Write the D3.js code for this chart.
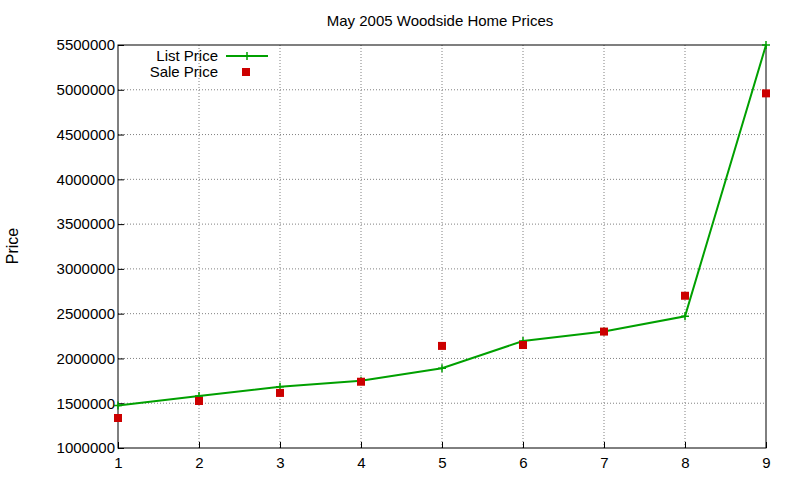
<!DOCTYPE html>
<html><head><meta charset="utf-8">
<script src="https://cdn.jsdelivr.net/npm/d3@7"></script>
<style>body{margin:0;background:#fff}svg{font-family:"Liberation Sans",Arial,sans-serif}.tick text{font-size:15px}</style>
</head><body><svg id="c" width="800" height="480"></svg>
<script>
const homes = [1, 2, 3, 4, 5, 6, 7, 8, 9];
const listPrice = [1475000, 1580000, 1685000, 1750000, 1890000, 2195000, 2300000, 2470000, 5500000];
const salePrice = [1335000, 1525000, 1615000, 1740000, 2140000, 2150000, 2300000, 2700000, 4960000];
const yTicks = [1000000, 1500000, 2000000, 2500000, 3000000, 3500000, 4000000, 4500000, 5000000, 5500000];

const svg = d3.select('#c');
const m = {l: 118, r: 766, t: 45, b: 448};
const x = d3.scaleLinear().domain([1, 9]).range([m.l, m.r]);
const y = d3.scaleLinear().domain([1000000, 5500000]).range([m.b, m.t]);

// Grid
const grid = svg.append('g').attr('stroke', '#808080').attr('stroke-dasharray', '1,2').attr('stroke-width', 1);
homes.slice(1, -1).forEach(d => grid.append('line').attr('x1', x(d)).attr('x2', x(d)).attr('y1', m.t).attr('y2', m.b));
yTicks.slice(1, -1).forEach(d => grid.append('line').attr('x1', m.l).attr('x2', m.r).attr('y1', y(d)).attr('y2', y(d)));

// Frame and axes
svg.append('rect').attr('x', m.l).attr('y', m.t).attr('width', m.r - m.l).attr('height', m.b - m.t)
    .attr('fill', 'none').attr('stroke', '#000');
svg.append('g').attr('transform', `translate(0,${m.b})`)
    .call(d3.axisBottom(x).tickValues(homes).tickFormat(d3.format('d')).tickSize(-6).tickPadding(9))
    .call(g => g.select('.domain').remove());
svg.append('g').attr('transform', `translate(${m.l},0)`)
    .call(d3.axisLeft(y).tickValues(yTicks).tickFormat(d3.format('d')).tickSize(-6).tickPadding(3))
    .call(g => g.select('.domain').remove());
svg.selectAll('.tick text').attr('fill', '#000').attr('font-family', '"Liberation Sans",Arial,sans-serif');

svg.append('text').attr('x', 440).attr('y', 26).attr('text-anchor', 'middle').attr('font-size', 15).text('May 2005 Woodside Home Prices');
svg.append('text').attr('transform', 'translate(18,246) rotate(-90)').attr('text-anchor', 'middle').attr('font-size', 16).text('Price');

// List price line
const line = d3.line().x((d, i) => x(homes[i])).y(d => y(d));
svg.append('path').datum(listPrice).attr('d', line).attr('fill', 'none').attr('stroke', '#00a000').attr('stroke-width', 2);
const plus = (g, cx, cy) => g.append('path').attr('d', `M${cx - 4},${cy}h8M${cx},${cy - 4}v8`).attr('stroke', '#00a000').attr('stroke-width', 1.5);
listPrice.forEach((d, i) => plus(svg, x(homes[i]), y(d)));

// Sale price points
svg.selectAll('.sale').data(salePrice).join('rect')
    .attr('x', (d, i) => x(homes[i]) - 4).attr('y', d => y(d) - 4)
    .attr('width', 8).attr('height', 8).attr('fill', '#cc0000');

// Legend
svg.append('text').attr('x', 218).attr('y', 61).attr('text-anchor', 'end').attr('font-size', 15).text('List Price');
svg.append('line').attr('x1', 226).attr('x2', 268).attr('y1', 56).attr('y2', 56).attr('stroke', '#00a000').attr('stroke-width', 2);
plus(svg, 247, 56);
svg.append('text').attr('x', 218).attr('y', 77).attr('text-anchor', 'end').attr('font-size', 15).text('Sale Price');
svg.append('rect').attr('x', 242).attr('y', 68).attr('width', 8).attr('height', 8).attr('fill', '#cc0000');
</script></body></html>
